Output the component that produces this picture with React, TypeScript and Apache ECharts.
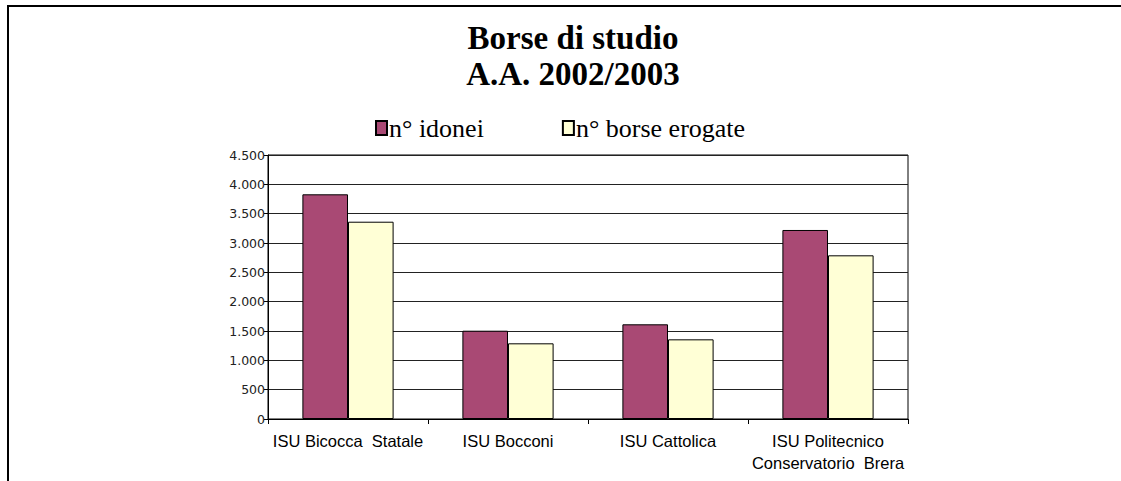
import React, { useEffect, useRef } from "react";
import * as echarts from "echarts";

const categories = ["ISU Bicocca  Statale", "ISU Bocconi", "ISU Cattolica", "ISU Politecnico\nConservatorio  Brera"];
const idonei = [3830, 1505, 1614, 3222];
const erogate = [3363, 1290, 1358, 2790];
const seriesNames = ["n° idonei", "n° borse erogate"];
const titleText = "Borse di studio\nA.A. 2002/2003";

const fmt = (v: number) => String(v).replace(/\B(?=(\d{3})+(?!\d))/g, ".");

export default function App() {
  const ref = useRef<HTMLDivElement>(null);
  useEffect(() => {
    const chart = echarts.init(ref.current!, undefined, { renderer: "svg" });
    chart.setOption({
      animation: false,
      backgroundColor: "#ffffff",
      title: {
        text: titleText,
        left: 568,
        textAlign: "center",
        top: 15,
        textStyle: {
          fontFamily: "Liberation Serif",
          fontWeight: "bold",
          fontSize: 33,
          lineHeight: 36,
          color: "#000",
        },
      },
      legend: {
        left: 370,
        top: 110,
        itemWidth: 11,
        itemHeight: 14,
        itemGap: 78,
        icon: "rect",
        textStyle: { fontFamily: "Liberation Serif", fontSize: 26, color: "#000", padding: [0, 0, 0, -3] },
      },
      graphic: [
        { type: "line", shape: { x1: 8, y1: 5, x2: 8, y2: 481 }, style: { stroke: "#000", lineWidth: 2 } },
        { type: "line", shape: { x1: 7, y1: 6, x2: 1121, y2: 6 }, style: { stroke: "#000", lineWidth: 2 } },
      ],
      grid: { left: 268, top: 155, width: 640, height: 264, show: true, borderColor: "#000", borderWidth: 1 },
      xAxis: {
        type: "category",
        data: categories,
        axisLine: { lineStyle: { color: "#000", width: 1 } },
        axisTick: { show: true, length: 5, lineStyle: { color: "#000" } },
        axisLabel: {
          fontFamily: "Liberation Sans",
          fontSize: 16.5,
          color: "#000",
          margin: 11,
          lineHeight: 22,
          interval: 0,
        },
      },
      yAxis: {
        type: "value",
        min: 0,
        max: 4500,
        interval: 500,
        axisLine: { show: true, lineStyle: { color: "#000", width: 1 } },
        axisTick: { show: true, length: 4, lineStyle: { color: "#000" } },
        splitLine: { lineStyle: { color: "#222", width: 1 } },
        axisLabel: {
          formatter: (v: number) => fmt(v),
          fontFamily: "DejaVu Sans",
          fontSize: 12.5,
          color: "#222",
          margin: 3,
        },
      },
      series: [
        {
          name: seriesNames[0],
          type: "bar",
          data: idonei,
          barWidth: "28.5%",
          barGap: "0%",
          itemStyle: { color: "#A94974", borderColor: "#000", borderWidth: 1 },
        },
        {
          name: seriesNames[1],
          type: "bar",
          data: erogate,
          barWidth: "28.5%",
          barGap: "0%",
          itemStyle: { color: "#FFFFD6", borderColor: "#000", borderWidth: 1 },
        },
      ],
    });
    return () => chart.dispose();
  }, []);
  return <div ref={ref} style={{ position: "fixed", left: 0, top: 0, width: 1121, height: 481 }} />;
}
